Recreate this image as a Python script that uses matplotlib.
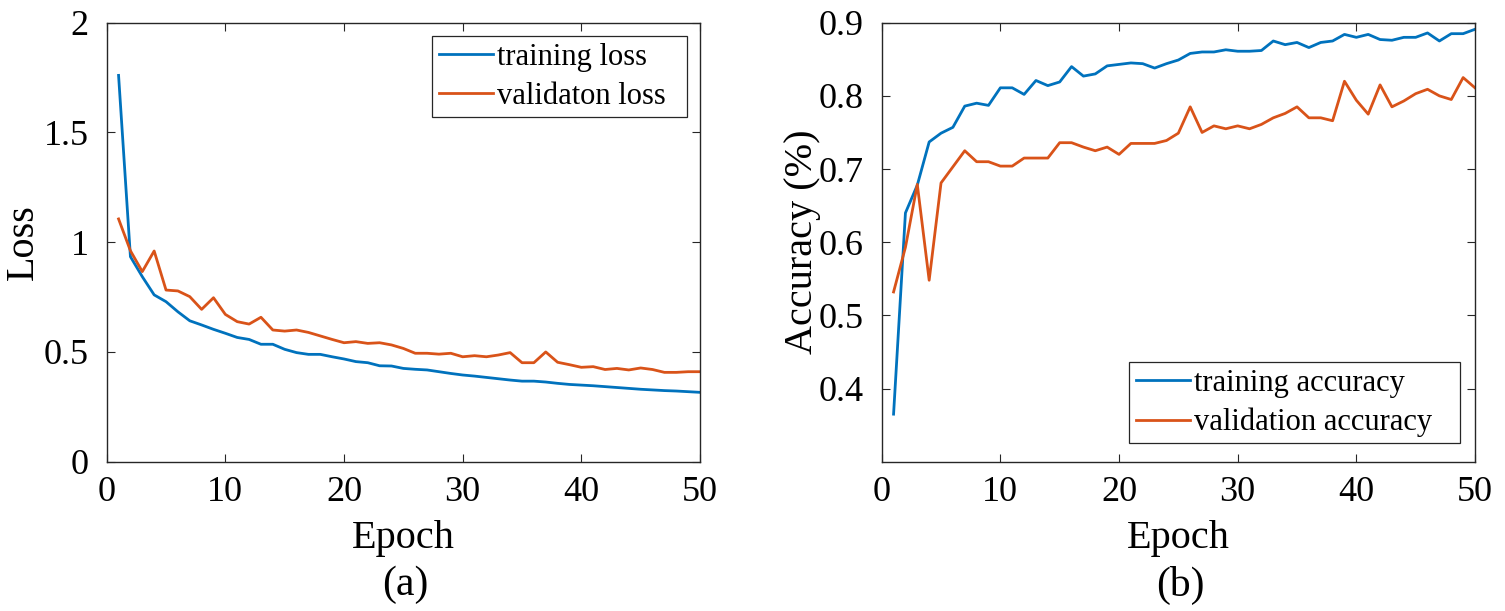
import numpy as np
import matplotlib
matplotlib.use("Agg")
import matplotlib.pyplot as plt
from matplotlib.patches import Rectangle

epochs = list(range(1, 51))

train_loss = [1.76, 0.934, 0.843, 0.76, 0.729, 0.683, 0.642, 0.623, 0.603, 0.585,
              0.566, 0.557, 0.535, 0.535, 0.512, 0.497, 0.489, 0.489, 0.478, 0.468,
              0.456, 0.451, 0.437, 0.436, 0.425, 0.421, 0.418, 0.41, 0.402, 0.395,
              0.39, 0.384, 0.378, 0.372, 0.367, 0.367, 0.363, 0.357, 0.352, 0.349,
              0.346, 0.342, 0.338, 0.334, 0.33, 0.327, 0.324, 0.322, 0.319, 0.316]
val_loss = [1.106, 0.961, 0.866, 0.96, 0.782, 0.778, 0.752, 0.694, 0.747, 0.671,
            0.638, 0.627, 0.658, 0.6, 0.595, 0.6, 0.589, 0.573, 0.557, 0.542,
            0.547, 0.539, 0.542, 0.532, 0.516, 0.494, 0.494, 0.49, 0.494, 0.478,
            0.483, 0.478, 0.486, 0.497, 0.451, 0.451, 0.5, 0.453, 0.442, 0.43,
            0.433, 0.42, 0.425, 0.418, 0.427, 0.42, 0.407, 0.407, 0.41, 0.41]

train_acc = [0.365, 0.64, 0.678, 0.737, 0.749, 0.757, 0.786, 0.79, 0.787, 0.811,
             0.811, 0.802, 0.821, 0.814, 0.819, 0.84, 0.827, 0.83, 0.841, 0.843,
             0.845, 0.844, 0.838, 0.844, 0.849, 0.858, 0.86, 0.86, 0.863, 0.861,
             0.861, 0.862, 0.875, 0.87, 0.873, 0.866, 0.873, 0.875, 0.884, 0.88,
             0.884, 0.877, 0.876, 0.88, 0.88, 0.886, 0.875, 0.885, 0.885, 0.891]
val_acc = [0.532, 0.593, 0.679, 0.548, 0.681, 0.703, 0.725, 0.71, 0.71, 0.704,
           0.704, 0.715, 0.715, 0.715, 0.736, 0.736, 0.73, 0.725, 0.73, 0.72,
           0.735, 0.735, 0.735, 0.739, 0.749, 0.785, 0.75, 0.759, 0.755, 0.759,
           0.755, 0.761, 0.77, 0.776, 0.785, 0.77, 0.77, 0.766, 0.82, 0.794,
           0.775, 0.815, 0.785, 0.793, 0.803, 0.809, 0.8, 0.795, 0.825, 0.811]

loss_yticks = [0, 0.5, 1, 1.5, 2]
loss_yticklabels = ["0", "0.5", "1", "1.5", "2"]
acc_yticks = [0.4, 0.5, 0.6, 0.7, 0.8, 0.9]
acc_yticklabels = ["0.4", "0.5", "0.6", "0.7", "0.8", "0.9"]
xticks = [0, 10, 20, 30, 40, 50]

BLUE = "#0072BD"
ORANGE = "#D95319"
EDGE = "#262626"

plt.rcParams['font.family'] = ['Liberation Serif', 'DejaVu Serif']

fig = plt.figure(figsize=(15.05, 6.11), dpi=100)
W, H = 1505, 611

def make_ax(x0, x1, y0, y1):
    return fig.add_axes([x0 / W, 1 - y1 / H, (x1 - x0) / W, (y1 - y0) / H])

ax1 = make_ax(106.7, 700, 22.7, 461.7)
ax2 = make_ax(881.7, 1475, 22.7, 461.7)

def style(ax):
    for s in ax.spines.values():
        s.set_color(EDGE)
        s.set_linewidth(1.0)
    ax.tick_params(direction='in', top=True, right=True, length=6, width=0.8,
                   colors=EDGE, labelsize=26, labelcolor='black')
    ax.tick_params(axis='x', pad=10)
    ax.tick_params(axis='y', pad=13)

def boxed_legend(ax, x0, x1, y0, y1):
    # legend content without frame, plus a frame box sized like the reference
    leg = ax.legend(loc='upper left', bbox_to_anchor=(x0 / W, 1 - y0 / H),
                    bbox_transform=fig.transFigure, fontsize=22, frameon=False,
                    handlelength=1.77, handletextpad=0.13, borderpad=0.22,
                    labelspacing=0.33, borderaxespad=0)
    for ln in leg.get_lines():
        ln.set_linewidth(2.0)
    leg.set_zorder(6)
    frame = Rectangle((x0 / W, 1 - y1 / H), (x1 - x0) / W, (y1 - y0) / H,
                      transform=fig.transFigure, fill=True, facecolor='white',
                      edgecolor=EDGE, linewidth=0.9, zorder=5, clip_on=False)
    ax.add_artist(frame)
    return leg

ax1.plot(epochs, train_loss, color=BLUE, lw=2.0, label="training loss")
ax1.plot(epochs, val_loss, color=ORANGE, lw=2.0, label="validaton loss")
ax1.set_xlim(0, 50)
ax1.set_ylim(0, 2)
ax1.set_xticks(xticks)
ax1.set_yticks(loss_yticks)
ax1.set_yticklabels(loss_yticklabels)
style(ax1)
ax1.set_xlabel("Epoch", fontsize=29, labelpad=8)
ax1.set_ylabel("Loss", fontsize=29, labelpad=1)

ax2.plot(epochs, train_acc, color=BLUE, lw=2.0, label="training accuracy")
ax2.plot(epochs, val_acc, color=ORANGE, lw=2.0, label="validation accuracy")
ax2.set_xlim(0, 50)
ax2.set_ylim(0.3, 0.9)
ax2.set_xticks(xticks)
ax2.set_yticks(acc_yticks)
ax2.set_yticklabels(acc_yticklabels)
style(ax2)
ax2.set_xlabel("Epoch", fontsize=29, labelpad=8)
ax2.set_ylabel("Accuracy (%)", fontsize=29, labelpad=-2)

boxed_legend(ax1, 432, 687, 36, 117)
boxed_legend(ax2, 1129, 1460, 362, 443)

fig.text(405 / W, 1 - 585 / H, "(a)", fontsize=30, ha='center', va='center')
fig.text(1180 / W, 1 - 585 / H, "(b)", fontsize=30, ha='center', va='center')

fig.savefig("out.png", dpi=100)
